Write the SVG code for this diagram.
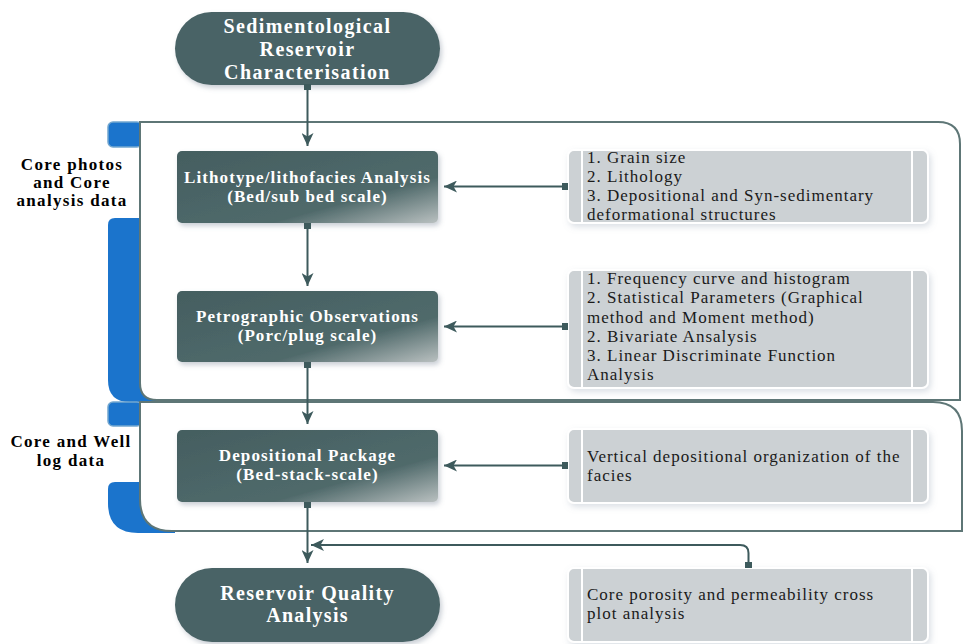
<svg xmlns="http://www.w3.org/2000/svg" width="965" height="644" viewBox="0 0 965 644">
<defs>
<style>
.frame{fill:#ffffff;stroke:#5e7676;stroke-width:2}
.blue{fill:#1b74cc}
.tab{fill:#1b74cc;stroke:#72a6cf;stroke-width:1.5}
.dark{fill:url(#dg);filter:url(#sh)}
.pill{fill:#4a6466;filter:url(#sh)}
.grey{fill:#ccd1d4;stroke:#ffffff;stroke-width:2;filter:url(#sh2)}
.sep{stroke:#ffffff;stroke-width:2}
.wt{font-family:"Liberation Serif","Times New Roman",serif;font-weight:bold;fill:#ffffff;text-anchor:middle}
.lt{font-family:"Liberation Serif","Times New Roman",serif;font-weight:bold;fill:#000000;text-anchor:middle;font-size:17px;letter-spacing:1.3px}
.gt{font-family:"Liberation Serif","Times New Roman",serif;fill:#1a1a1a;font-size:17px;letter-spacing:1px}
.ln{stroke:#3d5a5c;stroke-width:2;fill:none}
.sq{fill:#3d5a5c}
</style>
<linearGradient id="dg" x1="0" y1="0" x2="1" y2="1">
<stop offset="0" stop-color="#445e60"/>
<stop offset="0.68" stop-color="#506a6b"/>
<stop offset="1" stop-color="#b9c0c0"/>
</linearGradient>
<filter id="sh" x="-10%" y="-10%" width="125%" height="135%">
<feDropShadow dx="2" dy="3" stdDeviation="2.5" flood-color="#667788" flood-opacity="0.35"/>
</filter>
<filter id="sh2" x="-10%" y="-10%" width="125%" height="135%">
<feDropShadow dx="2" dy="3" stdDeviation="3" flood-color="#8899aa" flood-opacity="0.3"/>
</filter>
<marker id="ah" markerWidth="13" markerHeight="12" refX="13" refY="6" orient="auto" markerUnits="userSpaceOnUse">
<path d="M0,0 L13,6 L0,12 L3.5,6 Z" fill="#3d5a5c"/>
</marker>
</defs>
<rect width="965" height="644" fill="#ffffff"/>

<g id="brackets">
<rect class="tab" x="108" y="122" width="34" height="25" rx="5"/>
<path class="blue" d="M115,218 L160,218 L160,402 L130,402 Q108,402 108,380 L108,225 Q108,218 115,218 Z"/>
<rect class="tab" x="108" y="402" width="34" height="24" rx="5"/>
<path class="blue" d="M115,482 L175,482 L175,533 L138,533 Q108,533 108,503 L108,489 Q108,482 115,482 Z"/>
</g>

<g id="frames">
<path class="frame" d="M140,122 L938,122 Q960,122 960,144 L960,400 L157,400 Q140,400 140,383 Z"/>
<path class="frame" d="M140,402 L933,402 Q962,402 962,431 L962,531 L172,531 Q140,531 140,499 Z"/>
</g>

<g id="labels">
<text class="lt" x="72" y="170">Core photos</text>
<text class="lt" x="72" y="188">and Core</text>
<text class="lt" x="72" y="206">analysis data</text>
<text class="lt" x="71" y="447">Core and Well</text>
<text class="lt" x="71" y="466">log data</text>
</g>

<g id="start">
<rect class="pill" x="175" y="12" width="265" height="73" rx="36.5"/>
<text class="wt" font-size="20" letter-spacing="1.4" x="307.5" y="33">Sedimentological</text>
<text class="wt" font-size="20" letter-spacing="1.4" x="307.5" y="56">Reservoir</text>
<text class="wt" font-size="20" letter-spacing="1.4" x="307.5" y="79">Characterisation</text>
</g>

<g id="lithotype">
<rect class="dark" x="177" y="151" width="261" height="72" rx="5"/>
<text class="wt" font-size="17" letter-spacing="1.1" x="307.5" y="183">Lithotype/lithofacies Analysis</text>
<text class="wt" font-size="17" letter-spacing="1.1" x="307.5" y="202">(Bed/sub bed scale)</text>
</g>

<g id="petrographic">
<rect class="dark" x="177" y="291" width="261" height="71" rx="5"/>
<text class="wt" font-size="17" letter-spacing="1.1" x="307.5" y="322">Petrographic Observations</text>
<text class="wt" font-size="17" letter-spacing="1.1" x="307.5" y="341">(Porc/plug scale)</text>
</g>

<g id="depositional">
<rect class="dark" x="177" y="430" width="261" height="72" rx="5"/>
<text class="wt" font-size="17" letter-spacing="1.1" x="307.5" y="461">Depositional Package</text>
<text class="wt" font-size="17" letter-spacing="1.1" x="307.5" y="480">(Bed-stack-scale)</text>
</g>

<g id="reservoir">
<rect class="pill" x="175" y="568" width="265" height="74" rx="37"/>
<text class="wt" font-size="20" letter-spacing="1.3" x="307.5" y="600">Reservoir Quality</text>
<text class="wt" font-size="20" letter-spacing="1.3" x="307.5" y="622">Analysis</text>
</g>

<g id="info1">
<rect class="grey" x="568" y="150" width="360" height="73" rx="6"/>
<line class="sep" x1="582" y1="150" x2="582" y2="223"/>
<line class="sep" x1="912" y1="150" x2="912" y2="223"/>
<text class="gt" x="587" y="163">1. Grain size</text>
<text class="gt" x="587" y="182">2. Lithology</text>
<text class="gt" x="587" y="201">3. Depositional and Syn-sedimentary</text>
<text class="gt" x="587" y="220">deformational structures</text>
</g>

<g id="info2">
<rect class="grey" x="568" y="270" width="360" height="118" rx="6"/>
<line class="sep" x1="582" y1="270" x2="582" y2="388"/>
<line class="sep" x1="912" y1="270" x2="912" y2="388"/>
<text class="gt" x="587" y="284">1. Frequency curve and histogram</text>
<text class="gt" x="587" y="303">2. Statistical Parameters (Graphical</text>
<text class="gt" x="587" y="323">method and Moment method)</text>
<text class="gt" x="587" y="342">2. Bivariate Ansalysis</text>
<text class="gt" x="587" y="361">3. Linear Discriminate Function</text>
<text class="gt" x="587" y="380">Analysis</text>
</g>

<g id="info3">
<rect class="grey" x="568" y="429" width="360" height="74" rx="6"/>
<line class="sep" x1="582" y1="429" x2="582" y2="503"/>
<line class="sep" x1="912" y1="429" x2="912" y2="503"/>
<text class="gt" x="587" y="462">Vertical depositional organization of the</text>
<text class="gt" x="587" y="481">facies</text>
</g>

<g id="info4">
<rect class="grey" x="568" y="568" width="360" height="74" rx="6"/>
<line class="sep" x1="582" y1="568" x2="582" y2="642"/>
<line class="sep" x1="912" y1="568" x2="912" y2="642"/>
<text class="gt" x="587" y="600">Core porosity and permeability cross</text>
<text class="gt" x="587" y="619">plot analysis</text>
</g>

<g id="connectors">
<rect class="sq" x="304" y="84" width="7" height="6"/>
<line class="ln" x1="307.5" y1="88" x2="307.5" y2="146" marker-end="url(#ah)"/>
<rect class="sq" x="304" y="223" width="7" height="6"/>
<line class="ln" x1="307.5" y1="227" x2="307.5" y2="286" marker-end="url(#ah)"/>
<rect class="sq" x="304" y="362" width="7" height="6"/>
<line class="ln" x1="307.5" y1="366" x2="307.5" y2="424" marker-end="url(#ah)"/>
<rect class="sq" x="304" y="502" width="7" height="6"/>
<line class="ln" x1="307.5" y1="506" x2="307.5" y2="563" marker-end="url(#ah)"/>
<rect class="sq" x="562" y="183" width="6" height="7"/>
<line class="ln" x1="564" y1="186.5" x2="444" y2="186.5" marker-end="url(#ah)"/>
<rect class="sq" x="562" y="323" width="6" height="7"/>
<line class="ln" x1="564" y1="326.5" x2="444" y2="326.5" marker-end="url(#ah)"/>
<rect class="sq" x="562" y="462" width="6" height="7"/>
<line class="ln" x1="564" y1="465.5" x2="444" y2="465.5" marker-end="url(#ah)"/>
<rect class="sq" x="745" y="562" width="7" height="6"/>
<path class="ln" d="M748.5,564 L748.5,553 Q748.5,545 740,545 L311,545" marker-end="url(#ah)"/>
</g>
</svg>
